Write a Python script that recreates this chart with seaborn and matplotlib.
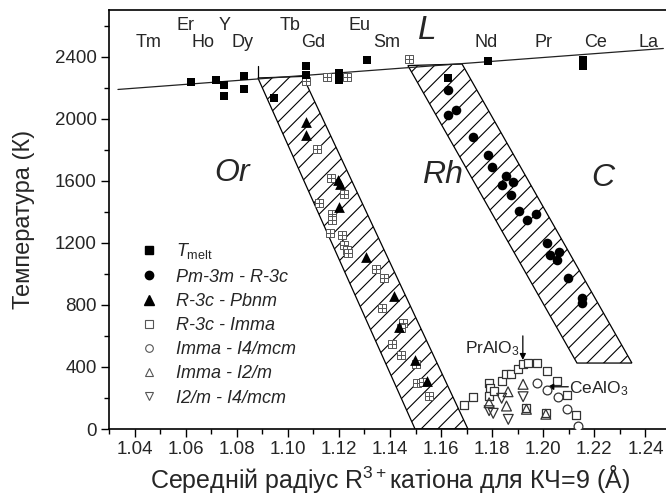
import numpy as np
import pandas as pd
import matplotlib
matplotlib.use("Agg")
import matplotlib.pyplot as plt
from matplotlib.lines import Line2D
from matplotlib.path import Path
import seaborn as sns

# ---- data -------------------------------------------------------------
# melting temperatures of RAlO3
melt_r = [1.0621, 1.0719, 1.0750, 1.0750, 1.0828, 1.0828, 1.0946, 1.1071,
          1.1071, 1.1200, 1.1200, 1.1310, 1.1627, 1.1783, 1.2155, 1.2155]
melt_t = [2239, 2252, 2214, 2149, 2272, 2188, 2136, 2342,
          2278, 2297, 2246, 2381, 2265, 2374, 2381, 2342]

# Pm-3m - R-3c
cub_r = [1.1628, 1.1628, 1.1658, 1.1726, 1.1784, 1.1801, 1.1854, 1.1880,
         1.1837, 1.1872, 1.1906, 1.1971, 1.1938, 1.2015, 1.2026, 1.2062,
         1.2055, 1.2095, 1.2152, 1.2152]
cub_t = [2182, 2021, 2053, 1881, 1768, 1688, 1628, 1591,
         1575, 1506, 1405, 1383, 1345, 1199, 1120, 1141,
         1087, 970, 841, 813]

# R-3c - Pbnm
rp_r = [1.1070, 1.1070, 1.1198, 1.1204, 1.1200, 1.1306, 1.1417, 1.1437,
        1.1498, 1.1543]
rp_t = [1978, 1892, 1607, 1577, 1430, 1109, 856, 656, 446, 311]

# R-3c - Imma, high-temperature (mixed compositions)
ri_hi_r = [1.1070, 1.1155, 1.1233, 1.1475, 1.1116, 1.1168, 1.1221, 1.1124,
           1.1173, 1.1173, 1.1166, 1.1213, 1.1220, 1.1233, 1.1236,
           1.1345, 1.1378, 1.1370, 1.1449, 1.1442, 1.1408, 1.1442, 1.1500,
           1.1506, 1.1528, 1.1554]
ri_hi_t = [2245, 2266, 2266, 2382, 1807, 1620, 1517, 1459,
           1384, 1350, 1260, 1249, 1185, 1153, 1131,
           1028, 975, 778, 684, 651, 547, 478, 419,
           299, 306, 212]
# R-3c - Imma, low-temperature
ri_lo_r = [1.1689, 1.1723, 1.1788, 1.1791, 1.1787, 1.1808, 1.1837, 1.1856,
           1.1873, 1.1902, 1.1919, 1.1941, 1.1976, 1.2013, 1.2052, 1.2091,
           1.2130, 1.1934, 1.2010]
ri_lo_t = [154, 208, 294, 266, 212, 246, 309, 352,
           352, 386, 416, 427, 423, 373, 311, 219,
           90, 133, 101]

# Imma - I4/mcm
it_r = [1.1974, 1.2015, 1.2056, 1.2091, 1.2134]
it_t = [298, 251, 208, 127, 19]

# Imma - I2/m
i2_r = [1.1788, 1.1862, 1.1921, 1.1856, 1.1934, 1.2010]
i2_t = [169, 240, 288, 148, 127, 95]

# I2/m - I4/mcm
i2t_r = [1.1788, 1.1804, 1.1863, 1.1921, 1.1837]
i2t_t = [118, 101, 62, 208, 198]

# liquidus line end points
liq_r = [1.0335, 1.2470]
liq_t = [2188, 2452]

# phase-boundary bands (polygon corners)
or_band_r = [1.0883, 1.1059, 1.1705, 1.1498]
or_band_t = [2262, 2272, 0, 0]
rh_band_r = [1.1470, 1.1682, 1.2347, 1.2132]
rh_band_t = [2342, 2352, 425, 425]

# element labels along the top
elem_names = ["Tm", "Er", "Ho", "Y", "Dy", "Tb", "Gd", "Eu", "Sm",
              "Nd", "Pr", "Ce", "La"]
elem_r = [1.0453, 1.0601, 1.0668, 1.0754, 1.0821, 1.1009, 1.1099, 1.1282,
          1.1389, 1.1775, 1.2000, 1.2203, 1.2411]
elem_row = [0, 1, 0, 1, 0, 1, 0, 1, 0, 0, 0, 0, 0]

x_ticks = [1.04, 1.06, 1.08, 1.10, 1.12, 1.14, 1.16, 1.18, 1.20, 1.22, 1.24]
y_ticks = [0, 400, 800, 1200, 1600, 2000, 2400]

# ---- style --------------------------------------------------------------
sns.set_theme(style="ticks")
FONT = "Liberation Sans"
plt.rcParams["font.family"] = [FONT, "DejaVu Sans"]
plt.rcParams["mathtext.fontset"] = "custom"
plt.rcParams["mathtext.rm"] = FONT
plt.rcParams["mathtext.it"] = FONT + ":italic"
plt.rcParams["hatch.linewidth"] = 0.8
plt.rcParams["hatch.color"] = "black"

fig = plt.figure(figsize=(6.66, 5.03), dpi=100)
ax = fig.add_axes([109 / 666, 74 / 503, 562 / 666, 419 / 503])

# hatched bands
ax.fill(or_band_r, or_band_t, facecolor="white", edgecolor="black",
        hatch="//", lw=0.9, zorder=1)
ax.fill(rh_band_r, rh_band_t, facecolor="white", edgecolor="black",
        hatch="//", lw=0.9, zorder=1)
ax.plot([or_band_r[0], or_band_r[0]], [or_band_t[0], 2336], color="black",
        lw=0.9, zorder=1)

# liquidus
ax.plot(liq_r, liq_t, color="#222222", lw=0.9, zorder=2)

# square marker with inner cross
grid_sq = Path([(-1, -1), (1, -1), (1, 1), (-1, 1), (-1, -1),
                (0, -1), (0, 1), (-1, 0), (1, 0)],
               [Path.MOVETO, Path.LINETO, Path.LINETO, Path.LINETO, Path.CLOSEPOLY,
                Path.MOVETO, Path.LINETO, Path.MOVETO, Path.LINETO])

grey = "#555555"
sns.scatterplot(x=ri_hi_r, y=ri_hi_t, marker=grid_sq, s=40, facecolor="white",
                edgecolor=grey, linewidth=0.7, ax=ax, zorder=3, legend=False)
sns.scatterplot(x=ri_lo_r, y=ri_lo_t, marker="s", s=38, facecolor="white",
                edgecolor="#333333", linewidth=0.9, ax=ax, zorder=3, legend=False)
sns.scatterplot(x=it_r, y=it_t, marker="o", s=40, facecolor="white",
                edgecolor="#333333", linewidth=0.9, ax=ax, zorder=4, legend=False)
sns.scatterplot(x=i2_r, y=i2_t, marker="^", s=50, facecolor="none",
                edgecolor="#333333", linewidth=0.9, ax=ax, zorder=4, legend=False)
sns.scatterplot(x=i2t_r, y=i2t_t, marker="v", s=50, facecolor="none",
                edgecolor="#333333", linewidth=0.9, ax=ax, zorder=4, legend=False)
sns.scatterplot(x=melt_r, y=melt_t, marker="s", s=32, color="black",
                edgecolor="black", linewidth=0, ax=ax, zorder=5, legend=False)
sns.scatterplot(x=cub_r, y=cub_t, marker="o", s=48, color="black",
                edgecolor="black", linewidth=0, ax=ax, zorder=5, legend=False)
sns.scatterplot(x=rp_r, y=rp_t, marker="^", s=60, color="black",
                edgecolor="black", linewidth=0, ax=ax, zorder=5, legend=False)

# element names
for name, r, row in zip(elem_names, elem_r, elem_row):
    ax.text(r, 2600 if row else 2490, name, ha="center", va="center",
            fontsize=13, zorder=6)

# phase-field labels
ax.text(1.1545, 2565, "L", fontsize=24, style="italic", ha="center", va="center")
ax.text(1.0781, 1647, "Or", fontsize=23, style="italic", ha="center", va="center")
ax.text(1.1607, 1634, "Rh", fontsize=23, style="italic", ha="center", va="center")
ax.text(1.2233, 1615, "C", fontsize=23, style="italic", ha="center", va="center")

# compound annotations
ax.annotate("", xy=(1.1920, 445), xytext=(1.1920, 600),
            arrowprops=dict(arrowstyle="-|>", color="black", lw=0.9,
                            mutation_scale=9, shrinkA=0, shrinkB=0))
ax.text(1.1692, 520, r"PrAlO$_3$", fontsize=12.5, ha="left", va="center")
ax.annotate("", xy=(1.2016, 272), xytext=(1.2098, 272),
            arrowprops=dict(arrowstyle="-|>", color="black", lw=0.9,
                            mutation_scale=9, shrinkA=0, shrinkB=0))
ax.text(1.2100, 262, r"CeAlO$_3$", fontsize=12.5, ha="left", va="center")

# axes
ax.set_xlim(1.03, 1.25)
ax.set_ylim(0, 2700)
ax.set_xticks(x_ticks)
ax.set_xticklabels([f"{v:.2f}" for v in x_ticks])
ax.set_yticks(y_ticks)
ax.set_xticks(np.arange(1.03, 1.2501, 0.01), minor=True)
ax.set_yticks(np.arange(0, 2701, 200), minor=True)
ax.tick_params(which="major", direction="out", length=6, width=1.0,
               labelsize=13.5, color="black", pad=3)
ax.tick_params(which="minor", direction="out", length=3.5, width=1.0,
               color="black")
ax.tick_params(axis="x", which="both", top=False)
ax.tick_params(axis="y", which="both", right=False)
for side in ["left", "bottom", "top"]:
    ax.spines[side].set_linewidth(1.2)
    ax.spines[side].set_color("black")
ax.spines["right"].set_visible(False)

ax.set_xlabel(r"Середній радіус R$^{3+}$катіона для КЧ=9 (Å)", fontsize=18,
              labelpad=3)
ax.set_ylabel("Температура (К)", fontsize=17, labelpad=14)

# legend
handles = [
    Line2D([], [], ls="", marker="s", ms=5.5, color="black"),
    Line2D([], [], ls="", marker="o", ms=6, color="black"),
    Line2D([], [], ls="", marker="^", ms=6.5, color="black"),
    Line2D([], [], ls="", marker="s", ms=5.5, mfc="white", mec=grey, mew=0.8),
    Line2D([], [], ls="", marker="o", ms=5.5, mfc="white", mec=grey, mew=0.8),
    Line2D([], [], ls="", marker="^", ms=6, mfc="white", mec=grey, mew=0.8),
    Line2D([], [], ls="", marker="v", ms=6, mfc="white", mec=grey, mew=0.8),
]
labels = [r"$T_{\mathrm{melt}}$", "Pm-3m - R-3c", "R-3c - Pbnm", "R-3c - Imma",
          "Imma - I4/mcm", "Imma - I2/m", "I2/m - I4/mcm"]
leg = ax.legend(handles, labels, loc="upper left",
                bbox_to_anchor=(0.043, 0.465), frameon=False,
                prop={"family": FONT, "style": "italic", "size": 13},
                handlelength=1.0, handletextpad=1.0, labelspacing=0.4,
                borderaxespad=0)

fig.savefig("out.png", dpi=100)
